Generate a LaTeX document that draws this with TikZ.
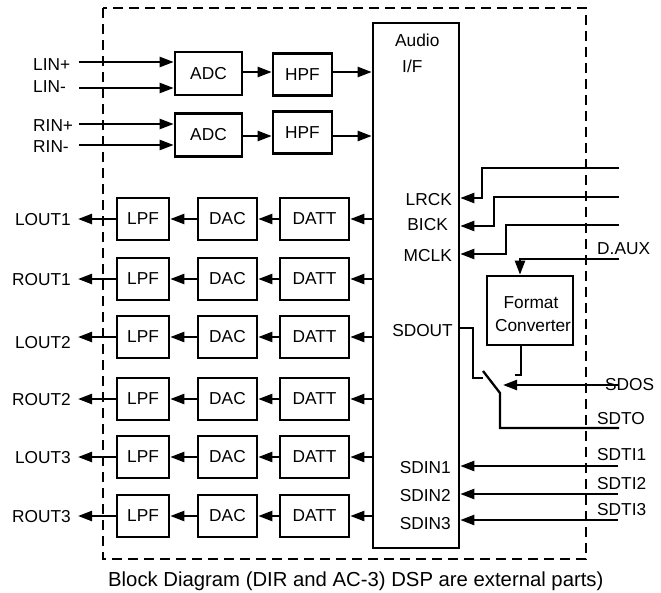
\documentclass[tikz,border=0pt]{standalone}
\usepackage{fontspec}
\setmainfont{Liberation Sans}
\usetikzlibrary{arrows.meta}
\newcommand\lblfont{\fontsize{17.3}{20}\selectfont}
\newcommand\capfont{\fontsize{20.3}{24}\selectfont}
\begin{document}
\begin{tikzpicture}[x=1pt,y=-1pt,
  blk/.style={draw, line width=2.6pt, minimum height=42pt, inner sep=0pt, font=\lblfont},
  lpfbox/.style={blk, minimum width=52pt},
  dacbox/.style={blk, minimum width=59pt},
  dattbox/.style={blk, minimum width=69pt},
  adcbox/.style={blk, minimum width=67pt, minimum height=43pt},
  hpfbox/.style={blk, minimum width=59pt},
  sig/.style={line width=2.3pt},
  arr/.style={sig, -{Triangle[length=14pt,width=10pt]}},
  lbl/.style={inner sep=0pt, font=\lblfont},
  dashframe/.style={line width=2.4pt, dash pattern=on 10pt off 6pt}
]
\useasboundingbox (0,0) rectangle (661,592);
\fill[white] (0,0) rectangle (661,592);

% dashed chip border
\draw[dashframe] (103,8) rectangle (586,559);

% Audio I/F
\node[draw, line width=2.6pt, minimum width=86pt, minimum height=525pt, inner sep=0pt] (aif) at (416,285.5) {};
\node[lbl, anchor=base west] (aud) at (395,46) {Audio};
\node[lbl, anchor=base west] (auif) at (402,72) {I/F};

% ADC / HPF
\node[adcbox] (adc1) at (208.5,73.5) {ADC};
\node[adcbox] (adc2) at (208.5,135) {ADC};
\node[hpfbox] (hpf1) at (302.5,74.5) {HPF};
\node[hpfbox] (hpf2) at (302.5,132.5) {HPF};

\node[lbl, anchor=base west] (tlinp) at (33,70.5) {LIN+};
\node[lbl, anchor=base west] (tlinm) at (33,92) {LIN-};
\node[lbl, anchor=base west] (trinp) at (33,131.5) {RIN+};
\node[lbl, anchor=base west] (trinm) at (33,152) {RIN-};
\coordinate (linp) at (79,62);
\coordinate (linm) at (79,88);
\coordinate (rinp) at (79,124);
\coordinate (rinm) at (79,145);
\draw[arr] (linp) -- (linp -| adc1.west);
\draw[arr] (linm) -- (linm -| adc1.west);
\draw[arr] (rinp) -- (rinp -| adc2.west);
\draw[arr] (rinm) -- (rinm -| adc2.west);

\coordinate (a1) at (242,72);
\coordinate (a2) at (242,136);
\draw[arr] (a1) -- (a1 -| hpf1.west);
\draw[arr] (a2) -- (a2 -| hpf2.west);
\coordinate (h1) at (332,72);
\coordinate (h2) at (332,136);
\draw[arr] (h1) -- (h1 -| aif.west);
\draw[arr] (h2) -- (h2 -| aif.west);

% output rows
\foreach \i/\y/\nm/\by in {1/219/LOUT1/225.5, 2/279/ROUT1/285, 3/337/LOUT2/348, 4/399/ROUT2/405.7, 5/457/LOUT3/463, 6/516/ROUT3/522.5} {
  \node[dattbox] (datt\i) at (314.5,\y) {DATT};
  \node[dacbox] (dac\i) at (227.5,\y) {DAC};
  \node[lpfbox] (lpf\i) at (143,\y) {LPF};
  \coordinate (out\i) at (78,\y);
  \node[lbl, anchor=base east] (outl\i) at (71,\by) {\nm};
  \draw[arr] (aif.west |- datt\i) -- (datt\i.east);
  \draw[arr] (datt\i.west) -- (dac\i.east);
  \draw[arr] (dac\i.west) -- (lpf\i.east);
  \draw[arr] (lpf\i.west) -- (out\i);
}

% pin labels
\node[lbl, anchor=base east] (tlrck) at (452,205) {LRCK};
\node[lbl, anchor=base east] (tbick) at (448,230) {BICK};
\node[lbl, anchor=base east] (tmclk) at (452,261) {MCLK};
\node[lbl, anchor=base east] (tsdout) at (453,336.5) {SDOUT};
\node[lbl, anchor=base east] (tsdin1) at (451,473) {SDIN1};
\node[lbl, anchor=base east] (tsdin2) at (451,501) {SDIN2};
\node[lbl, anchor=base east] (tsdin3) at (451,529) {SDIN3};

% right side labels
\node[lbl, anchor=base west] (tdaux) at (597,254) {D.AUX};
\node[lbl, anchor=base west] (tsdos) at (605,390.5) {SDOS};
\node[lbl, anchor=base west] (tsdto) at (597,424) {SDTO};
\node[lbl, anchor=base west] (tsdti1) at (597,460) {SDTI1};
\node[lbl, anchor=base west] (tsdti2) at (597,489) {SDTI2};
\node[lbl, anchor=base west] (tsdti3) at (597,515) {SDTI3};

% clock inputs
\coordinate (lrckE) at (619,168);
\coordinate (bickE) at (619,197);
\coordinate (mclkE) at (619,225);
\coordinate (lrckP) at (aif.east |- 0,198);
\coordinate (bickP) at (aif.east |- 0,226);
\coordinate (mclkP) at (aif.east |- 0,254);
\draw[arr] (lrckE) -| ([xshift=22pt]lrckP) -- (lrckP);
\draw[arr] (bickE) -| ([xshift=34pt]bickP) -- (bickP);
\draw[arr] (mclkE) -| ([xshift=46pt]mclkP) -- (mclkP);

% format converter
\node[draw, line width=2.6pt, minimum width=86pt, minimum height=69pt, inner sep=0pt] (fc) at (530,310.5) {};
\node[lbl, anchor=base] (tfmt) at (531,308) {Format};
\node[lbl, anchor=base] (tconv) at (533,331) {Converter};
\coordinate (dauxE) at (619,259);
\draw[arr] (dauxE) -| ([xshift=-10pt]fc.north);
\coordinate (fcout) at (515,375);
\draw[sig] ([xshift=-9pt]fc.south) |- (fcout);

% switch
\coordinate (sdoutP) at (aif.east |- 0,328);
\coordinate (swL) at (483,378);
\coordinate (swT) at (483,371);
\coordinate (swB) at (500,393);
\coordinate (sdtoE) at (619,428);
\draw[sig] (sdoutP) -| (473,378) -- (swL);
\draw[sig] (swT) -- (swB) |- (sdtoE);
\coordinate (sdosE) at (619,385);
\coordinate (sdosT) at (503,385);
\draw[arr] (sdosE) -- (sdosT);

% serial data inputs
\coordinate (sdti1E) at (618,466);
\coordinate (sdti2E) at (618,494);
\coordinate (sdti3E) at (618,520);
\draw[arr] (sdti1E) -- (sdti1E -| aif.east);
\draw[arr] (sdti2E) -- (sdti2E -| aif.east);
\draw[arr] (sdti3E) -- (sdti3E -| aif.east);

% caption
\node[inner sep=0pt, font=\capfont, anchor=base west] (cap) at (108,586) {Block Diagram (DIR and AC-3) DSP are external parts)};
\end{tikzpicture}
\end{document}
